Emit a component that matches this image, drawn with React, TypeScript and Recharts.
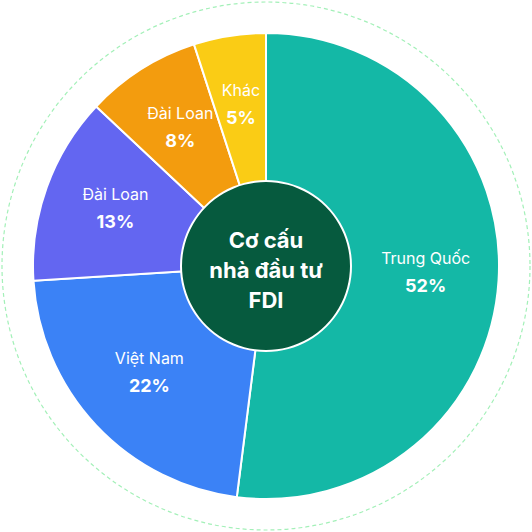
import React from "react";
import { Pie, PieChart, Cell, Customized } from "recharts";

const names = ["Trung Quốc", "Việt Nam", "Đài Loan", "Đài Loan", "Khác"];
const shares = [52, 22, 13, 8, 5];
const colors = ["#14b8a6", "#3b82f6", "#6366f1", "#f39c0e", "#facc15"];
const centerLines = ["Cơ cấu", "nhà đầu tư", "FDI"];

const data = names.map((name, i) => ({ name, value: shares[i] }));
const hub = [{ name: "hub", value: 1 }];

const SIZE = 532;
const CX = 266;
const CY = 266;
const RAD = Math.PI / 180;

function SliceLabel(props: any) {
    const { cx, cy, midAngle, index } = props;
    const r = 160;
    const x = cx + r * Math.cos(-midAngle * RAD);
    const y = cy + r * Math.sin(-midAngle * RAD);
    return (
        <g>
            <text x={x} y={y - 12} fill="#ffffff" textAnchor="middle" fontSize={16} fontFamily="Inter">
                {names[index]}
            </text>
            <text x={x} y={y + 16} fill="#ffffff" textAnchor="middle" fontSize={18} fontWeight={700} fontFamily="Inter">
                {shares[index]}%
            </text>
        </g>
    );
}

function CenterText(props: any) {
    const { cx, cy } = props;
    return (
        <g>
            {centerLines.map((line, i) => (
                <text
                    key={i}
                    x={cx}
                    y={cy - 18 + i * 30}
                    fill="#ffffff"
                    textAnchor="middle"
                    fontSize={22}
                    fontWeight={700}
                    fontFamily="Inter"
                >
                    {line}
                </text>
            ))}
        </g>
    );
}

function OuterRing() {
    return (
        <circle cx={CX} cy={CY} r={264} fill="none" stroke="#a3f0b8" strokeWidth={1.2} strokeDasharray="4 3" />
    );
}

export default function App() {
    return (
        <div style={{ position: "absolute", left: 0, top: 0, width: SIZE, height: SIZE, background: "#ffffff" }}>
            <PieChart width={SIZE} height={SIZE} margin={{ top: 0, right: 0, bottom: 0, left: 0 }}>
                <Customized component={OuterRing} />
                <Pie
                    data={data}
                    dataKey="value"
                    cx={CX}
                    cy={CY}
                    outerRadius={233}
                    innerRadius={0}
                    startAngle={90}
                    endAngle={-270}
                    stroke="#ffffff"
                    strokeWidth={2}
                    label={SliceLabel}
                    labelLine={false}
                    isAnimationActive={false}
                >
                    {data.map((d, i) => (
                        <Cell key={i} fill={colors[i]} />
                    ))}
                </Pie>
                <Pie
                    data={hub}
                    dataKey="value"
                    cx={CX}
                    cy={CY}
                    outerRadius={86}
                    fill="#ffffff"
                    stroke="none"
                    isAnimationActive={false}
                />
                <Pie
                    data={hub}
                    dataKey="value"
                    cx={CX}
                    cy={CY}
                    outerRadius={84}
                    fill="#065a3e"
                    stroke="none"
                    label={CenterText}
                    labelLine={false}
                    isAnimationActive={false}
                />
            </PieChart>
        </div>
    );
}
